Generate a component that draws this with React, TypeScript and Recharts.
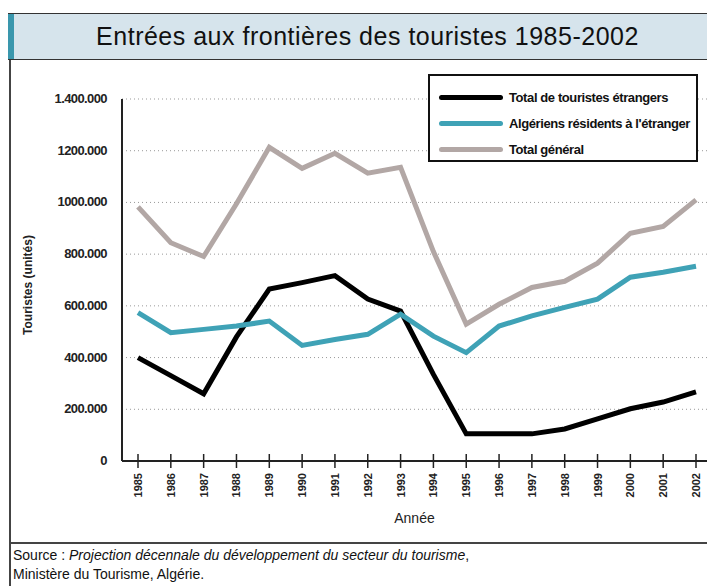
import React from 'react';
import { LineChart, Line, XAxis, YAxis, CartesianGrid, Legend } from 'recharts';

// Années
const years = ['1985', '1986', '1987', '1988', '1989', '1990', '1991', '1992', '1993', '1994', '1995', '1996', '1997', '1998', '1999', '2000', '2001', '2002'];

// Séries (nombre de touristes)
const totalEtrangers = [400000, 330000, 260000, 480000, 665000, 690000, 717000, 626000, 580000, 335000, 105000, 105000, 105000, 124000, 163000, 202000, 228000, 267000];
const algeriensEtranger = [574000, 496000, 509000, 522000, 541000, 447000, 470000, 490000, 568000, 483000, 419000, 522000, 561000, 594000, 626000, 711000, 730000, 753000];
const totalGeneral = [983000, 844000, 791000, 995000, 1213000, 1132000, 1190000, 1113000, 1136000, 810000, 529000, 606000, 671000, 695000, 765000, 881000, 907000, 1010000];

const yTicks = [0, 200000, 400000, 600000, 800000, 1000000, 1200000, 1400000];
const yTickLabels = ['0', '200.000', '400.000', '600.000', '800.000', '1000.000', '1200.000', '1.400.000'];

const seriesNames = ['Total de touristes étrangers', 'Algériens résidents à l\'étranger', 'Total général'];
const colors = ['#000000', '#3fa2b6', '#b2a7a5'];

const data = years.map((y, i) => ({
  year: y,
  etr: totalEtrangers[i],
  alg: algeriensEtranger[i],
  tot: totalGeneral[i],
}));

const narrow = '"Liberation Sans Narrow", "Liberation Sans", Arial, sans-serif';

const YTick = (props: any) => {
  const { x, y, payload } = props;
  const idx = yTicks.indexOf(payload.value);
  return (
    <text x={x} y={y} dy={4} textAnchor="end" fontFamily={narrow} fontSize={13} fontWeight="bold" fill="#222" letterSpacing={-0.6}>
      {yTickLabels[idx]}
    </text>
  );
};

const XTick = (props: any) => {
  const { x, y, payload } = props;
  return (
    <g>
      <line x1={x} x2={x} y1={y - 7} y2={y + 7} stroke="#222" strokeWidth={1.5} />
      <text
        x={0}
        y={0}
        transform={`translate(${x + 4},${y + 12}) rotate(-90)`}
        textAnchor="end"
        fontFamily={narrow}
        fontSize={11}
        fontWeight="bold"
        fill="#222"
      >
        {payload.value}
      </text>
    </g>
  );
};

const LegendBox = () => (
  <div
    style={{
      width: 270,
      height: 88,
      border: '2px solid #111',
      background: '#fff',
      boxSizing: 'border-box',
      padding: '8px 0 0 9px',
      fontFamily: narrow,
      fontSize: 13,
      fontWeight: 'bold',
      color: '#111',
      textAlign: 'left',
    }}
  >
    {seriesNames.map((n, i) => (
      <div key={n} style={{ display: 'flex', alignItems: 'center', height: 26 }}>
        <div style={{ width: 64, height: 5, background: colors[i], borderRadius: 3, marginRight: 6 }} />
        <span style={{ letterSpacing: -0.4 }}>{n}</span>
      </div>
    ))}
  </div>
);

export default function App() {
  return (
    <div style={{ position: 'fixed', left: 0, top: 0, width: 707, height: 586, background: '#fff', overflow: 'hidden' }}>
      {/* bandeau titre */}
      <div
        style={{
          position: 'absolute',
          left: 8,
          top: 13,
          width: 699,
          height: 47,
          background: '#d6e4ec',
          borderTop: '1px solid #333',
          borderBottom: '1px solid #333',
          boxSizing: 'border-box',
        }}
      >
        <div style={{ position: 'absolute', left: 0, top: 0, width: 6, height: '100%', background: '#3a97ad' }} />
        <div
          style={{
            position: 'absolute',
            left: 0,
            right: 0,
            top: 8,
            textAlign: 'center',
            paddingLeft: 20,
            fontFamily: narrow,
            fontSize: 25,
            color: '#111',
            letterSpacing: 0.5,
          }}
        >
          Entrées aux frontières des touristes 1985-2002
        </div>
      </div>
      {/* cadre gauche */}
      <div style={{ position: 'absolute', left: 9, top: 60, width: 2, height: 526, background: '#444' }} />

      <div style={{ position: 'absolute', left: 0, top: 0 }}>
        <LineChart width={707} height={586} data={data} margin={{ top: 99, right: 0, bottom: 0, left: 0 }}>
          <CartesianGrid vertical={false} stroke="#999" strokeDasharray="1 3" />
          <XAxis
            dataKey="year"
            interval={0}
            height={125}
            padding={{ left: 16, right: 11 }}
            axisLine={{ stroke: '#222', strokeWidth: 2 }}
            tickLine={false}
            tickSize={0}
            tickMargin={0}
            tick={<XTick />}
            label={{ value: 'Année', position: 'insideTop', offset: 52, fontFamily: narrow, fontSize: 14, fill: '#222' }}
          />
          <YAxis
            width={122}
            domain={[0, 1400000]}
            ticks={yTicks}
            interval={0}
            axisLine={{ stroke: '#222', strokeWidth: 2 }}
            tickLine={false}
            tickMargin={9}
            tick={<YTick />}
          />
          <Legend
            layout="horizontal"
            verticalAlign="middle"
            align="center"
            wrapperStyle={{ position: 'absolute', left: 428, top: 74, width: 270 }}
            content={<LegendBox />}
          />
          <Line dataKey="etr" name={seriesNames[0]} stroke={colors[0]} strokeWidth={5} dot={false} isAnimationActive={false} />
          <Line dataKey="alg" name={seriesNames[1]} stroke={colors[1]} strokeWidth={5} dot={false} isAnimationActive={false} />
          <Line dataKey="tot" name={seriesNames[2]} stroke={colors[2]} strokeWidth={5} dot={false} isAnimationActive={false} />
        </LineChart>
      </div>

      {/* titre axe Y */}
      <div
        style={{
          position: 'absolute',
          left: 28,
          top: 285,
          transform: 'translate(-50%, -50%) rotate(-90deg)',
          whiteSpace: 'nowrap',
          fontFamily: narrow,
          fontSize: 12,
          fontWeight: 'bold',
          color: '#222',
        }}
      >
        Touristes (unités)
      </div>

      {/* source */}
      <div style={{ position: 'absolute', left: 10, top: 542, width: 697, height: 2, background: '#444' }} />
      <div
        style={{
          position: 'absolute',
          left: 13,
          top: 546,
          fontFamily: '"Liberation Sans", Arial, sans-serif',
          fontSize: 14,
          lineHeight: '19px',
          color: '#111',
          letterSpacing: 0,
        }}
      >
        Source : <i>Projection décennale du développement du secteur du tourisme</i>,
        <br />
        Ministère du Tourisme, Algérie.
      </div>
    </div>
  );
}
